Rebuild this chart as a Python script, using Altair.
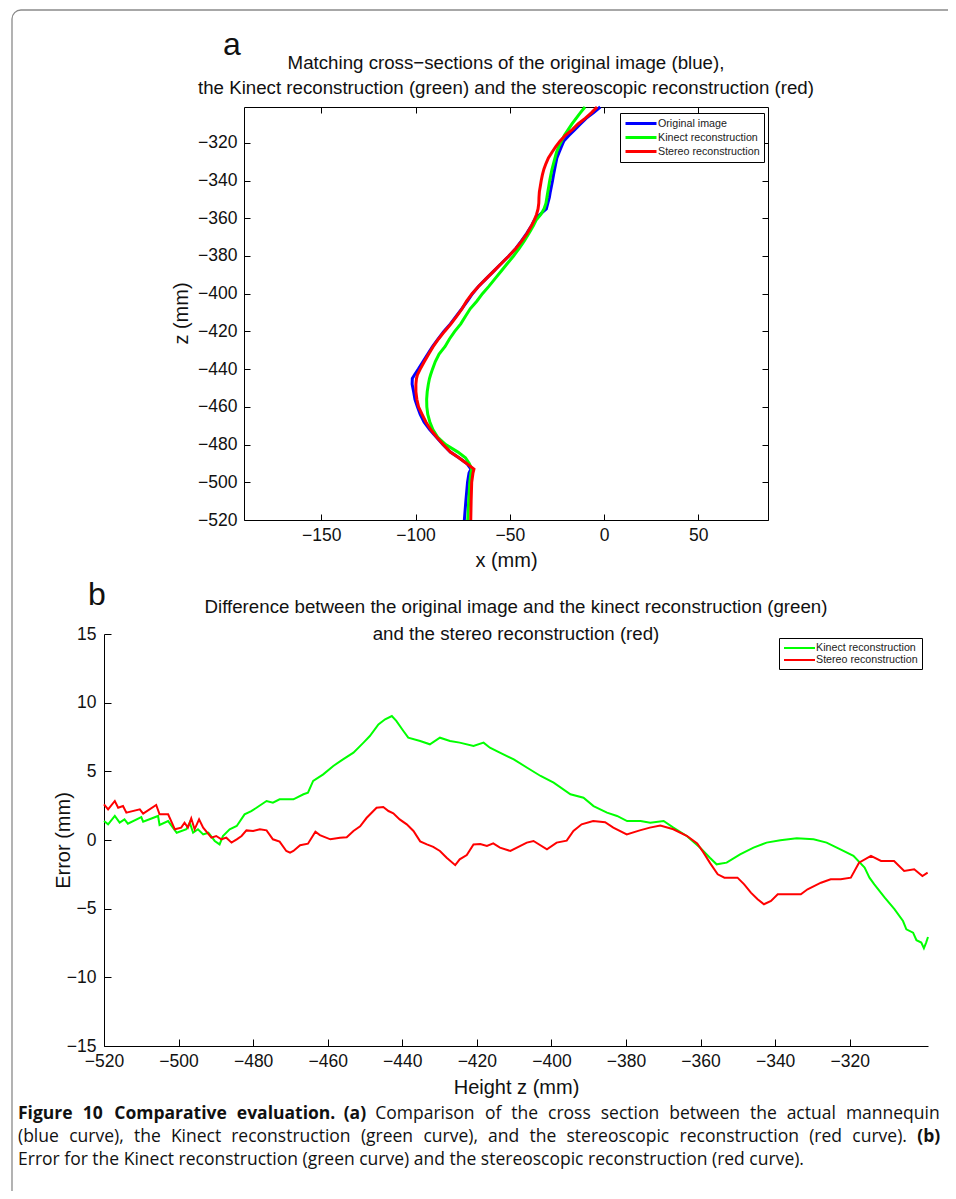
import altair as alt
import pandas as pd

# ---------------- panel (a): x (mm) of each cross-section at height z (mm)
a_z = [-520, -510, -500, -495, -493, -490, -487, -484, -480, -476, -472, -468, -464,
       -460, -456, -452, -448, -445, -443, -440, -436, -432, -428, -424, -420, -416,
       -412, -408, -404, -400, -396, -392, -388, -384, -380, -376, -372, -368, -364,
       -361, -358, -355, -352, -349, -346, -343, -340, -337, -334, -331, -328, -325,
       -322, -319, -316, -313, -310, -307, -304, -301]
a_original = [-74.1, -73.3, -72.4, -71.6, -70.6, -72.8, -77.0, -81.5, -85.5, -89.0,
              -92.5, -95.5, -97.5, -99.0, -100.3, -101.0, -101.8, -101.7, -100.5, -98.5,
              -96.0, -93.5, -91.0, -88.0, -85.0, -81.5, -78.5, -75.5, -72.5, -69.8,
              -66.5, -62.5, -58.5, -54.5, -50.5, -46.8, -43.8, -41.0, -38.5, -37.0,
              -34.0, -30.6, -29.8, -29.0, -28.5, -27.9, -27.3, -26.8, -26.2, -25.6,
              -25.0, -23.8, -22.6, -21.3, -18.5, -15.5, -12.5, -9.5, -5.5, -2.0]
a_kinect = [-72.3, -71.8, -71.2, -70.6, -70.1, -71.5, -73.5, -77.5, -84.0, -88.3,
            -90.8, -92.4, -93.5, -94.0, -94.1, -93.8, -93.2, -92.6, -92.0, -91.0,
            -89.5, -87.5, -84.3, -82.0, -79.2, -76.0, -73.5, -71.0, -67.5, -64.5,
            -61.0, -57.8, -54.5, -51.3, -48.0, -45.0, -42.3, -39.8, -37.5, -36.0,
            -33.5, -31.8, -30.8, -30.3, -29.8, -29.3, -28.8, -28.2, -27.6, -26.8,
            -26.0, -25.2, -24.0, -22.5, -21.0, -19.0, -17.0, -14.8, -12.5, -10.1]
a_stereo = [-70.7, -70.5, -70.2, -69.5, -69.0, -72.9, -77.0, -81.5, -85.3, -88.8,
            -92.0, -94.5, -96.5, -98.4, -99.3, -99.8, -99.8, -99.5, -99.0, -97.5,
            -95.3, -93.0, -90.6, -87.8, -84.6, -81.2, -78.2, -75.3, -73.0, -70.0,
            -66.5, -62.5, -58.5, -54.5, -50.5, -46.8, -43.6, -40.8, -38.5, -37.0,
            -35.8, -35.0, -34.6, -34.5, -34.3, -33.8, -33.3, -32.7, -31.9, -30.8,
            -29.5, -27.6, -25.6, -23.3, -20.5, -16.8, -13.8, -10.0, -6.6, -3.7]
a_series = ["Original image", "Kinect reconstruction", "Stereo reconstruction"]
a_colors = ["#0000ff", "#00ff00", "#ff0000"]
a_x_ticks = [-150, -100, -50, 0, 50]
a_z_ticks = [-520, -500, -480, -460, -440, -420, -400, -380, -360, -340, -320]

# ---------------- panel (b): error (mm) along height z (mm)
b_kinect_z = [-520.0, -518.9, -517.1, -515.8, -514.5, -513.6, -510.0, -509.5, -505.5, -505.1,
              -502.8, -500.5, -497.9, -497.0, -496.1, -494.8, -493.4, -492.0, -490.3, -489.0,
              -488.1, -486.3, -484.4, -482.3, -480.5, -479.1, -476.4, -474.7, -472.9, -469.2,
              -466.5, -465.3, -463.9, -461.2, -458.5, -455.9, -453.1, -450.4, -448.7, -446.4,
              -444.6, -442.8, -441.6, -439.7, -438.4, -435.2, -432.6, -429.9, -427.2, -424.6,
              -420.9, -418.2, -416.5, -413.7, -410.1, -406.5, -402.9, -399.4, -394.9, -391.4,
              -388.7, -385.1, -382.4, -379.7, -376.1, -373.5, -369.9, -367.3, -363.7, -360.1,
              -357.5, -355.7, -353.0, -349.4, -345.8, -342.3, -338.6, -334.2, -329.7, -326.2,
              -322.5, -319.0, -316.0, -314.7, -313.4, -310.6, -308.0, -305.7, -304.8, -303.0,
              -302.1, -300.8, -300.1, -299.5, -299.0]
b_kinect_err = [1.38, 1.14, 1.75, 1.26, 1.5, 1.19, 1.67, 1.33, 1.75, 1.09,
                1.38, 0.53, 0.78, 1.26, 0.53, 0.78, 0.41, 0.53, -0.07, -0.32,
                0.29, 0.78, 1.02, 1.87, 2.11, 2.35, 2.84, 2.72, 2.96, 2.96,
                3.33, 3.45, 4.3, 4.78, 5.39, 5.87, 6.36, 7.09, 7.57, 8.42,
                8.79, 9.03, 8.67, 7.94, 7.45, 7.21, 6.97, 7.45, 7.21, 7.09,
                6.84, 7.09, 6.72, 6.35, 5.87, 5.26, 4.66, 4.17, 3.33, 3.08,
                2.47, 1.99, 1.75, 1.38, 1.38, 1.26, 1.38, 0.9, 0.29, -0.56,
                -1.29, -1.77, -1.65, -1.04, -0.56, -0.19, -0.02, 0.12, 0.05, -0.19,
                -0.68, -1.16, -2.01, -2.74, -3.23, -4.2, -5.04, -5.9, -6.5, -6.75,
                -7.3, -7.47, -7.88, -7.47, -7.06]
b_stereo_z = [-520.0, -518.9, -517.1, -516.2, -514.9, -514.0, -510.4, -509.5, -506.0, -505.1,
              -502.8, -501.0, -499.3, -498.4, -497.5, -496.6, -495.7, -494.5, -493.4, -491.2,
              -489.9, -488.5, -487.2, -485.8, -484.4, -483.1, -481.8, -480.0, -478.2, -476.4,
              -474.7, -472.9, -471.1, -470.1, -469.2, -467.4, -465.3, -463.3, -462.1, -459.3,
              -456.7, -454.9, -453.1, -451.3, -449.6, -446.9, -445.1, -443.7, -442.4, -440.7,
              -438.8, -437.0, -435.2, -433.4, -431.7, -429.9, -428.1, -425.8, -424.6, -422.7,
              -420.9, -419.1, -417.3, -415.6, -413.8, -411.0, -406.6, -404.8, -401.2, -398.6,
              -395.9, -394.1, -391.9, -388.8, -385.6, -383.4, -379.8, -376.3, -373.6, -370.8,
              -367.3, -363.6, -360.9, -359.2, -357.4, -355.4, -353.6, -350.1, -348.3, -346.5,
              -344.7, -343.0, -341.1, -339.3, -335.7, -333.1, -331.3, -327.7, -325.1, -322.4,
              -319.7, -317.5, -314.3, -311.6, -308.1, -305.4, -302.7, -300.5, -299.1]
b_stereo_err = [2.6, 2.23, 2.84, 2.35, 2.48, 1.99, 2.23, 1.92, 2.55, 1.87,
                1.87, 0.78, 0.9, 1.26, 0.9, 1.58, 0.78, 1.5, 0.9, 0.17,
                0.29, 0.05, 0.17, -0.19, 0.05, 0.29, 0.7, 0.66, 0.78, 0.7,
                0.05, -0.12, -0.8, -0.92, -0.8, -0.38, -0.27, 0.6, 0.36, 0.05,
                0.17, 0.2, 0.66, 1.0, 1.6, 2.35, 2.4, 2.11, 1.95, 1.5,
                1.14, 0.66, -0.1, -0.32, -0.5, -0.8, -1.29, -1.83, -1.41, -1.1,
                -0.32, -0.3, -0.44, -0.25, -0.56, -0.8, -0.19, -0.07, -0.68, -0.19,
                -0.05, 0.66, 1.14, 1.38, 1.3, 0.9, 0.41, 0.7, 0.9, 1.05,
                0.78, 0.29, -0.25, -0.92, -1.7, -2.5, -2.74, -2.74, -3.23, -3.83,
                -4.32, -4.68, -4.44, -3.95, -3.95, -3.95, -3.59, -3.11, -2.86, -2.86,
                -2.74, -1.65, -1.16, -1.53, -1.53, -2.26, -2.13, -2.62, -2.38]
b_series = ["Kinect reconstruction", "Stereo reconstruction"]
b_colors = ["#00ff00", "#ff0000"]
b_z_ticks = [-520, -500, -480, -460, -440, -420, -400, -380, -360, -340, -320]
b_err_ticks = [-15, -10, -5, 0, 5, 10, 15]

# ---------------- texts
title_a = ["Matching cross\u2212sections of the original image (blue),",
           "the Kinect reconstruction (green) and the stereoscopic reconstruction (red)"]
title_b = ["Difference between the original image and the kinect reconstruction (green)",
           "and the stereo reconstruction (red)"]
cap1_bold = "Figure 10 Comparative evaluation. (a)"
cap1_rest = "Comparison of the cross section between the actual mannequin"
cap2_rest = "(blue curve), the Kinect reconstruction (green curve), and the stereoscopic reconstruction (red curve)."
cap2_bold = "(b)"
cap3 = "Error for the Kinect reconstruction (green curve) and the stereoscopic reconstruction (red curve)."

# ---------------- tables
top_df = pd.concat([
    pd.DataFrame({"z": a_z, "x": a_original, "series": a_series[0]}),
    pd.DataFrame({"z": a_z, "x": a_kinect, "series": a_series[1]}),
    pd.DataFrame({"z": a_z, "x": a_stereo, "series": a_series[2]}),
], ignore_index=True)
bot_df = pd.concat([
    pd.DataFrame({"z": b_kinect_z, "err": b_kinect_err, "series": b_series[0]}),
    pd.DataFrame({"z": b_stereo_z, "err": b_stereo_err, "series": b_series[1]}),
], ignore_index=True)
one = pd.DataFrame({"k": [0]})

# ---------------- geometry (pixels inside the whole drawing area)
W, H = 940, 1183
A_L, A_R, A_T, A_B = 236, 760, 99, 512
B_L, B_R, B_T, B_B = 96, 920, 626, 1038
FONT = "Liberation Sans"
CAP_FONT = "Open Sans"
INK = "#111111"
TICK_FS = 17.5
TITLE_FS = 20
HEAD_FS = 18.7
CAP_FS = 17.5
CAP_LEFT, CAP_RIGHT = 10, 932

# approximate Open Sans advance widths (em) used to justify the caption lines
ADV = {" ": 0.26, "a": 0.556, "b": 0.613, "c": 0.48, "d": 0.613, "e": 0.561, "f": 0.336,
       "g": 0.546, "h": 0.614, "i": 0.258, "j": 0.258, "k": 0.529, "l": 0.258, "m": 0.933,
       "n": 0.614, "o": 0.602, "p": 0.613, "q": 0.613, "r": 0.408, "s": 0.477, "t": 0.353,
       "u": 0.614, "v": 0.501, "w": 0.778, "x": 0.524, "y": 0.501, "z": 0.468,
       "C": 0.633, "E": 0.556, "F": 0.517, "K": 0.595, "(": 0.296, ")": 0.296,
       ",": 0.25, ".": 0.267}
BOLD_FACTOR = 1.077


def word_width(word, bold):
    em = sum(ADV.get(c, 0.572) for c in word)
    return em * CAP_FS * (BOLD_FACTOR if bold else 1.0)


def sx_a():
    return alt.Scale(domain=[-191, 87], range=[A_L, A_R], nice=False, zero=False)


def sy_a():
    return alt.Scale(domain=[-520, -301], range=[A_B, A_T], nice=False, zero=False)


def sx_b():
    return alt.Scale(domain=[-520, -299], range=[B_L, B_R], nice=False, zero=False)


def sy_b():
    return alt.Scale(domain=[-15, 15], range=[B_B, B_T], nice=False, zero=False)


def label_axis(orient, values, offset, pad, title, tx, ty, angle=0):
    return alt.Axis(orient=orient, values=values, offset=offset, ticks=False, domain=False,
                    grid=False, labels=True, labelFont=FONT, labelFontSize=TICK_FS,
                    labelColor=INK, labelPadding=pad, labelFlush=False, labelOverlap=False,
                    title=title, titleFont=FONT, titleFontSize=TITLE_FS,
                    titleFontWeight="normal", titleColor=INK, titleX=tx, titleY=ty,
                    titleAlign="center", titleBaseline="middle", titleAngle=angle)


def edge_axis(orient, values, offset, size):
    return alt.Axis(orient=orient, values=values, offset=offset, labels=False, ticks=True,
                    tickSize=size, tickColor="black", tickWidth=1, domain=True,
                    domainColor="black", domainWidth=1, grid=False, title=None)


def legend(x, y, width):
    return alt.Legend(orient="none", legendX=x, legendY=y, strokeColor="black",
                      fillColor="white", padding=4, rowPadding=1, symbolType="M-1,0L5.2,0",
                      symbolSize=100, symbolStrokeWidth=width, labelFont=FONT,
                      labelFontSize=10.7, labelColor="#222222", labelOffset=21)


def txt(s, x, y, size, align="center", weight="normal", font=FONT, baseline="middle"):
    return alt.Chart(one).mark_text(text=s, align=align, baseline=baseline, fontSize=size,
                                    font=font, fontWeight=weight, color=INK).encode(
        x=alt.value(x), y=alt.value(y))


def justified(parts, y):
    """parts: list of (text, bold). Words spread evenly from CAP_LEFT to CAP_RIGHT."""
    words = []
    for text, bold in parts:
        words += [(w, bold) for w in text.split(" ")]
    widths = [word_width(w, b) for w, b in words]
    gap = (CAP_RIGHT - CAP_LEFT - sum(widths)) / (len(words) - 1)
    marks, x = [], CAP_LEFT
    for (w, b), wd in zip(words, widths):
        marks.append(txt(w, x, y, CAP_FS, align="left", weight="bold" if b else "normal",
                         font=CAP_FONT))
        x += wd + gap
    return marks


frame = alt.Chart(one).mark_rect(fillOpacity=0, stroke="#8a8a8a", strokeWidth=1.3,
                                 cornerRadius=9).encode(
    x=alt.value(4), x2=alt.value(3000), y=alt.value(2), y2=alt.value(3000))

# panel (a)
a_lines = alt.Chart(top_df).mark_line(strokeWidth=3).encode(
    x=alt.X("x:Q", scale=sx_a(),
            axis=label_axis("bottom", a_x_ticks, A_B - H, 6, "x (mm)", (A_L + A_R) / 2, 40)),
    y=alt.Y("z:Q", scale=sy_a(),
            axis=label_axis("left", a_z_ticks, -A_L, 7, "z (mm)", -63, 305, 270)),
    color=alt.Color("series:N", title=None,
                    scale=alt.Scale(domain=a_series, range=a_colors),
                    legend=legend(612, 105, 3)),
    order=alt.Order("z:Q"),
)
a_edges1 = alt.Chart(top_df).mark_point(opacity=0).encode(
    x=alt.X("x:Q", scale=sx_a(), axis=edge_axis("top", a_x_ticks, -A_B, 6)),
    y=alt.Y("z:Q", scale=sy_a(), axis=edge_axis("right", a_z_ticks, A_L - W, 6)),
)
a_edges2 = alt.Chart(top_df).mark_point(opacity=0).encode(
    x=alt.X("x:Q", scale=sx_a(), axis=edge_axis("bottom", a_x_ticks, A_T - H, 6)),
    y=alt.Y("z:Q", scale=sy_a(), axis=edge_axis("left", a_z_ticks, -A_R, 6)),
)

# panel (b)
b_lines = alt.Chart(bot_df).mark_line(strokeWidth=2).encode(
    x=alt.X("z:Q", scale=sx_b(),
            axis=label_axis("bottom", b_z_ticks, B_B - H, 6, "Height z (mm)", (B_L + B_R) / 2, 41)),
    y=alt.Y("err:Q", scale=sy_b(),
            axis=label_axis("left", b_err_ticks, -B_L, 8, "Error (mm)", -41, 832, 270)),
    color=alt.Color("series:N", title=None,
                    scale=alt.Scale(domain=b_series, range=b_colors),
                    legend=legend(771, 630, 2)),
)
b_edges = alt.Chart(bot_df).mark_point(opacity=0).encode(
    x=alt.X("z:Q", scale=sx_b(), axis=edge_axis("top", b_z_ticks, -B_B, 7)),
    y=alt.Y("err:Q", scale=sy_b(), axis=edge_axis("right", b_err_ticks, B_L - W, 7)),
)

texts = [
    txt("a", 215, 47, 32, align="left", baseline="alphabetic"),
    txt(title_a[0], (A_L + A_R) / 2, 55, HEAD_FS),
    txt(title_a[1], (A_L + A_R) / 2, 80, HEAD_FS),
    txt("b", 80, 597, 32, align="left", baseline="alphabetic"),
    txt(title_b[0], (B_L + B_R) / 2, 599, HEAD_FS),
    txt(title_b[1], (B_L + B_R) / 2, 626, HEAD_FS),
]
texts += justified([(cap1_bold, True), (cap1_rest, False)], 1106)
texts += justified([(cap2_rest, False), (cap2_bold, True)], 1129)
texts.append(txt(cap3, CAP_LEFT, 1152, CAP_FS, align="left", font=CAP_FONT))

chart = alt.layer(frame, a_lines, a_edges1, a_edges2, b_lines, b_edges, *texts).resolve_scale(
    x="independent", y="independent", color="independent"
).resolve_axis(
    x="independent", y="independent"
).resolve_legend(
    color="independent"
).properties(
    width=W, height=H, autosize=alt.AutoSizeParams(type="none"), padding=0
).configure_view(strokeWidth=0)

chart.save("out.html", embed_options={"renderer": "svg", "actions": False})
